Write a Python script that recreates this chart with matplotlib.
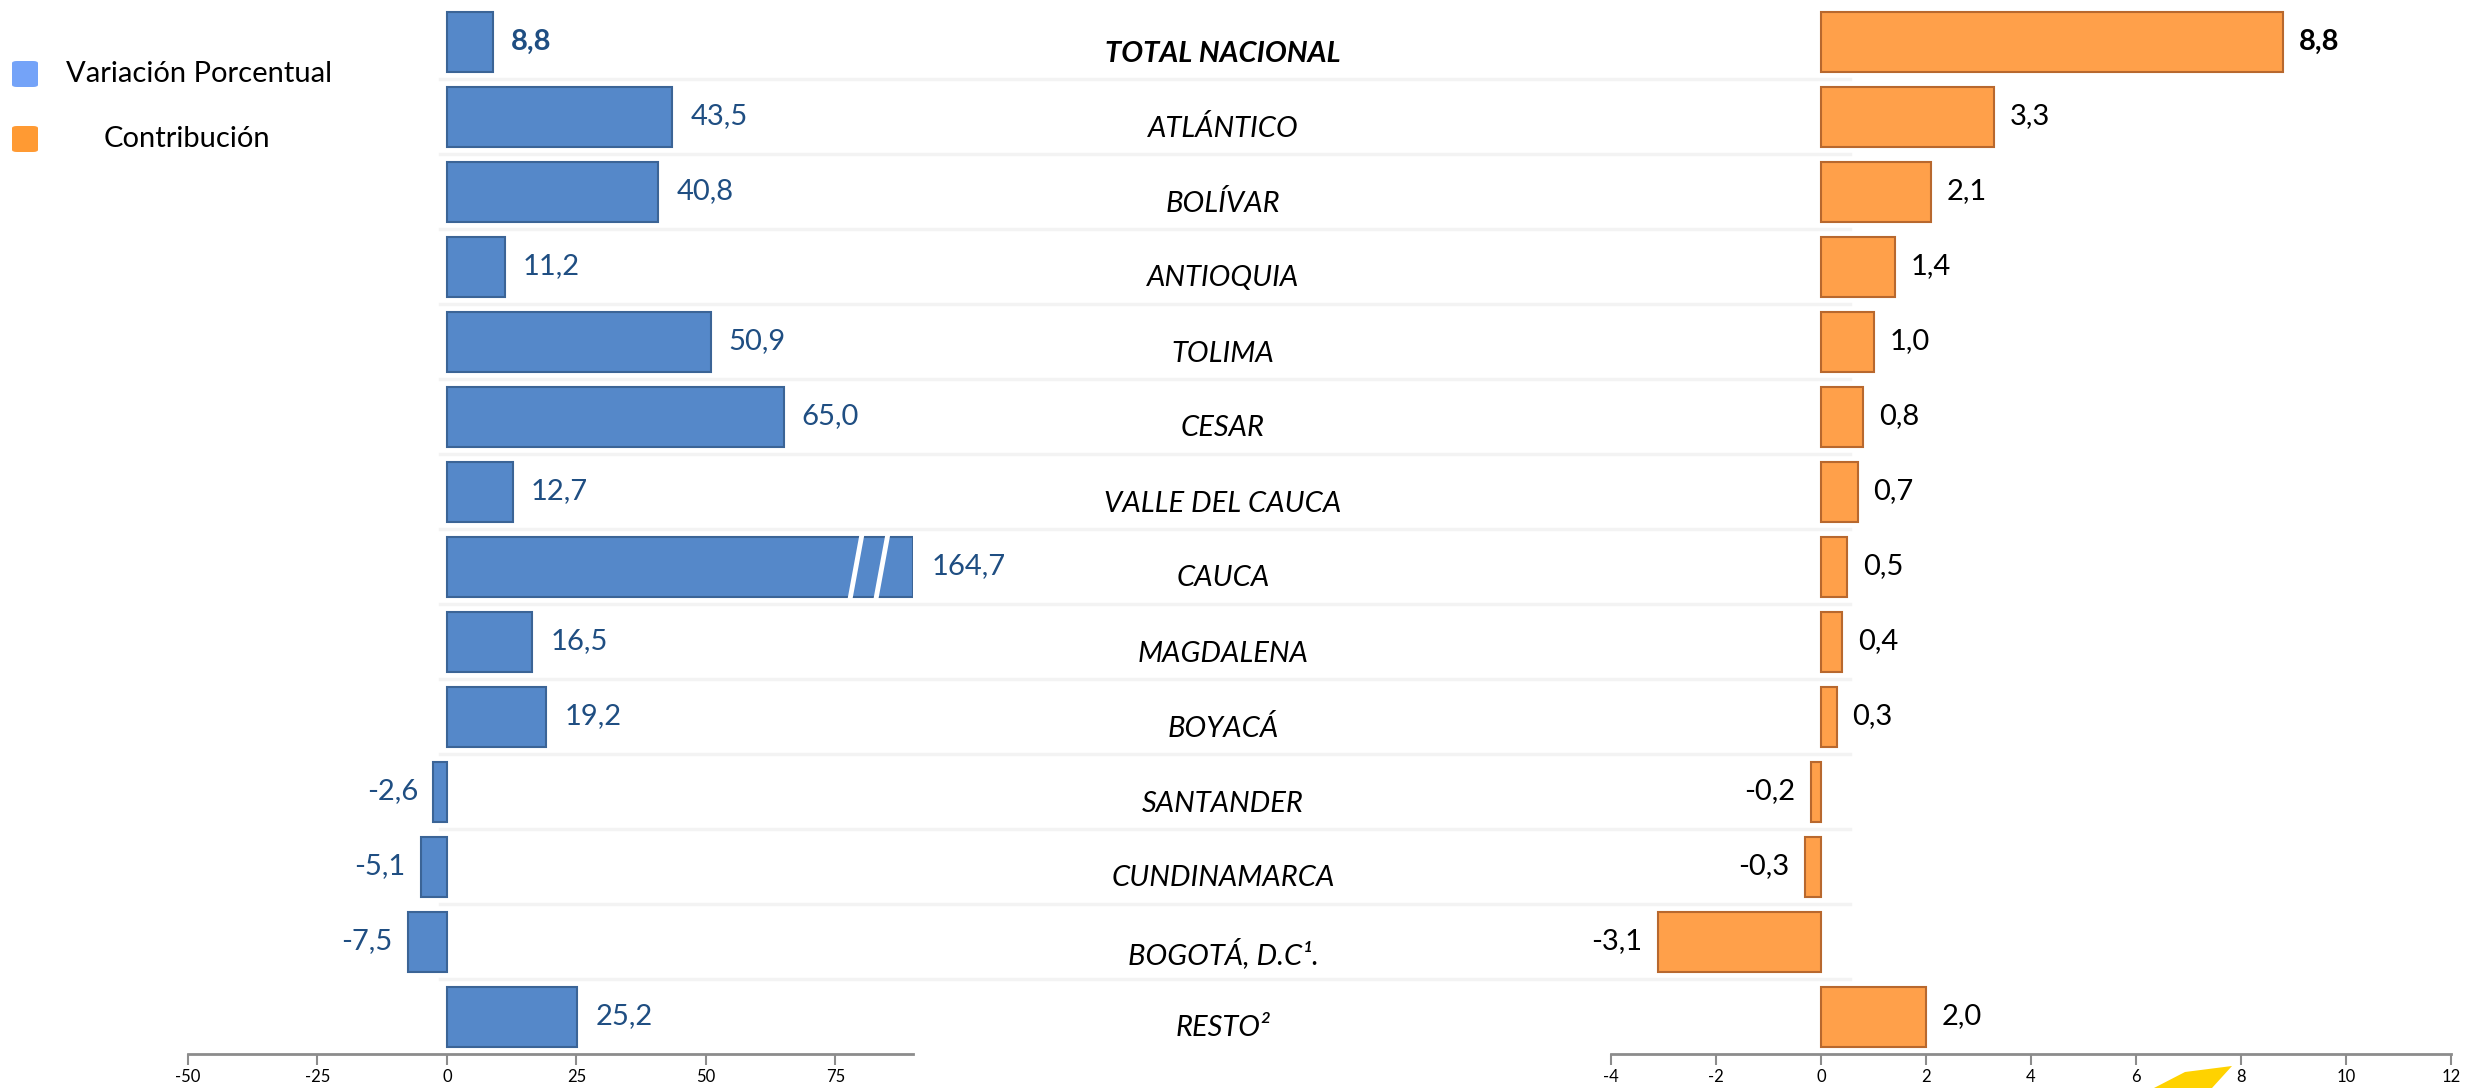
import matplotlib.pyplot as plt
import matplotlib.patches as mpatches
import numpy as np

plt.rcParams['font.family'] = ['Lato', 'DejaVu Sans']
plt.rcParams['axes.unicode_minus'] = False

# data
categories = ['TOTAL NACIONAL', 'ATLÁNTICO', 'BOLÍVAR', 'ANTIOQUIA', 'TOLIMA', 'CESAR',
              'VALLE DEL CAUCA', 'CAUCA', 'MAGDALENA', 'BOYACÁ', 'SANTANDER',
              'CUNDINAMARCA', 'BOGOTÁ, D.C¹.', 'RESTO²']
variacion = [8.8, 43.5, 40.8, 11.2, 50.9, 65.0, 12.7, 164.7, 16.5, 19.2, -2.6, -5.1, -7.5, 25.2]
contribucion = [8.8, 3.3, 2.1, 1.4, 1.0, 0.8, 0.7, 0.5, 0.4, 0.3, -0.2, -0.3, -3.1, 2.0]
left_ticks = [-50, -25, 0, 25, 50, 75]
right_ticks = [-4, -2, 0, 2, 4, 6, 8, 10, 12]

def fmt(v):
    return f'{v:.1f}'.replace('.', ',')

W, H = 2465, 1088
fig = plt.figure(figsize=(W / 100, H / 100), dpi=100)

y = np.arange(len(categories))
bot = 1 - 1054 / H
top = 1 - 4 / H

# background separators
bg = fig.add_axes([0, bot, 1, top - bot])
bg.set_xlim(0, W)
bg.set_ylim(len(categories) - 0.5, -0.5)
bg.axis('off')
for i in range(len(categories) - 1):
    bg.plot([440, 1850], [i + 0.5, i + 0.5], color='#f3f3f3', lw=2.5, zorder=0)
for i, c in enumerate(categories):
    bg.text(1223, i + 0.16, c, ha='center', va='center', fontsize=21, style='italic',
            fontweight='bold' if i == 0 else 'normal', color='black')

# left panel: variacion porcentual
xmax_l = 90
axl = fig.add_axes([188 / W, bot, (913 - 188) / W, top - bot])
vals_l = np.minimum(np.array(variacion), xmax_l)
axl.barh(y, vals_l, height=0.8, color='#5588C9', edgecolor='#3B6496', lw=1.5, zorder=3)
axl.set_xlim(-50, xmax_l)
axl.set_ylim(len(categories) - 0.5, -0.5)
for i, v in enumerate(variacion):
    if v >= 0:
        axl.text(min(v, xmax_l) + 3.5, i, fmt(v), ha='left', va='center', fontsize=21,
                 color='#1F4E82', fontweight='bold' if i == 0 else 'normal')
    else:
        axl.text(v - 3, i, fmt(v), ha='right', va='center', fontsize=21, color='#1F4E82')
# axis break on the truncated bar
ib = int(np.argmax(variacion))
for xb in (79, 84):
    axl.plot([xb - 1.2, xb + 1.2], [ib + 0.45, ib - 0.45], color='white', lw=3.5, zorder=4,
             solid_capstyle='butt')

# right panel: contribucion
axr = fig.add_axes([1611 / W, bot, (2451 - 1611) / W, top - bot])
axr.barh(y, contribucion, height=0.8, color='#FFA04A', edgecolor='#B8682E', lw=1.5, zorder=3)
axr.set_xlim(-4, 12)
axr.set_ylim(len(categories) - 0.5, -0.5)
for i, v in enumerate(contribucion):
    if v >= 0:
        axr.text(v + 0.3, i, fmt(v), ha='left', va='center', fontsize=21, color='black',
                 fontweight='bold' if i == 0 else 'normal')
    else:
        axr.text(v - 0.3, i, fmt(v), ha='right', va='center', fontsize=21, color='black')

for ax, ticks in ((axl, left_ticks), (axr, right_ticks)):
    ax.set_facecolor('none')
    for s in ('top', 'right', 'left'):
        ax.spines[s].set_visible(False)
    ax.spines['bottom'].set_color('#8c8c8c')
    ax.spines['bottom'].set_linewidth(2)
    ax.set_yticks([])
    ax.set_xticks(ticks)
    ax.tick_params(axis='x', direction='out', length=8, width=1.5, color='#8c8c8c',
                   labelsize=12, pad=3)

# legend
fig.patches.append(mpatches.FancyBboxPatch((12 / W, 1 - 87 / H), 26 / W, 26 / H,
                   boxstyle='round,pad=0,rounding_size=0.002', transform=fig.transFigure,
                   color='#74A3F8', ec='none'))
fig.patches.append(mpatches.FancyBboxPatch((12 / W, 1 - 152 / H), 26 / W, 26 / H,
                   boxstyle='round,pad=0,rounding_size=0.002', transform=fig.transFigure,
                   color='#FF9A33', ec='none'))
fig.text(66 / W, 1 - 74 / H, 'Variación Porcentual', fontsize=21, va='center', ha='left')
fig.text(104 / W, 1 - 139 / H, 'Contribución', fontsize=21, va='center', ha='left')

# logo fragment at bottom
fig.patches.append(mpatches.Polygon([(2154 / W, 0), (2185 / W, 16 / H), (2232 / W, 22 / H),
                                     (2212 / W, 0)], closed=True, transform=fig.transFigure,
                                    color='#FFD200', ec='none'))

fig.savefig('out.png', dpi=100)
